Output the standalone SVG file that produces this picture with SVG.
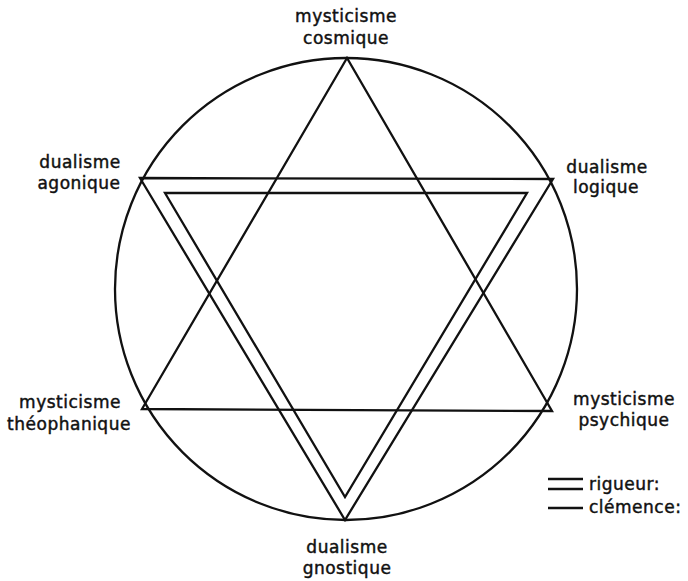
<svg xmlns="http://www.w3.org/2000/svg" width="688" height="581" viewBox="0 0 688 581">
<style>
.l{fill:none;stroke:#111;stroke-width:2.3;stroke-linejoin:miter}
text{font-family:"DejaVu Sans",sans-serif;font-size:17px;fill:#111;stroke:#111;stroke-width:0.45;text-anchor:middle;letter-spacing:0.5px}
.s{text-anchor:start}
</style>
<rect width="688" height="581" fill="#fff"/>
<g id="connectors">
<circle class="l" cx="346" cy="289" r="231"/>
<polygon class="l" points="347,58 142,409 552,411"/>
<polygon class="l" points="140,178 553,179 345,520"/>
<polygon class="l" points="165,193 527,193 345,497"/>
</g>
<g id="cosmique"><text x="346" y="22">mysticisme</text><text x="346" y="44">cosmique</text></g>
<g id="agonique"><text x="80" y="168">dualisme</text><text x="79" y="189">agonique</text></g>
<g id="logique"><text x="607" y="173">dualisme</text><text x="606" y="193">logique</text></g>
<g id="theophanique"><text x="70" y="408">mysticisme</text><text x="69" y="430">théophanique</text></g>
<g id="psychique"><text x="624" y="405">mysticisme</text><text x="624" y="426">psychique</text></g>
<g id="gnostique"><text x="347" y="553">dualisme</text><text x="347" y="574">gnostique</text></g>
<g id="legend">
<line class="l" x1="548" y1="479" x2="583" y2="479"/>
<line class="l" x1="548" y1="489" x2="583" y2="489"/>
<line class="l" x1="548" y1="508" x2="583" y2="508"/>
<text class="s" x="589" y="490">rigueur:</text>
<text class="s" x="589" y="513">clémence:</text>
</g>
</svg>
